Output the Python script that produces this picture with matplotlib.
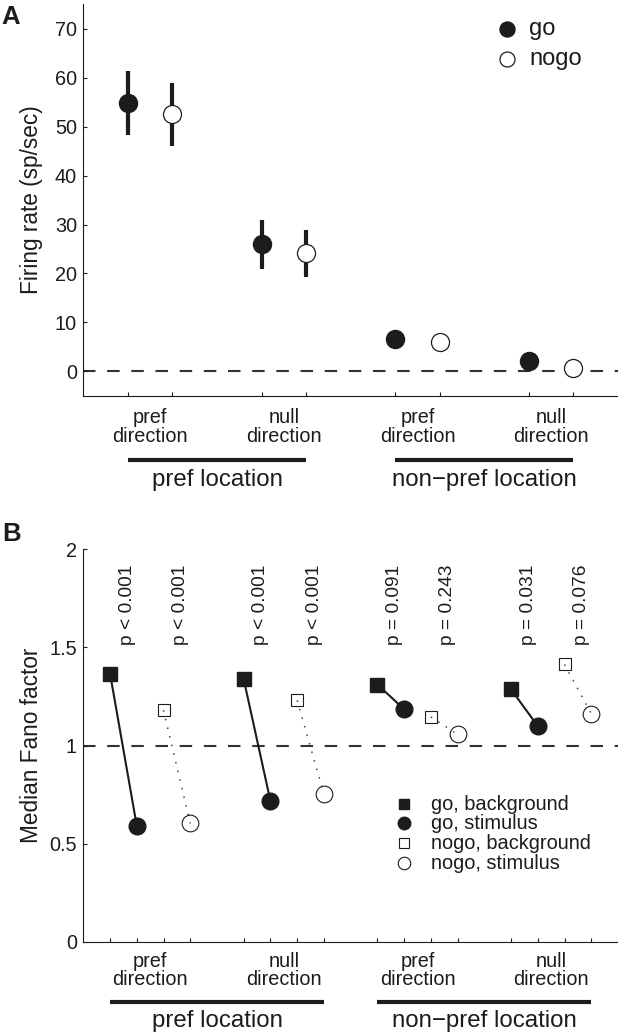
import matplotlib
matplotlib.use('Agg')
import matplotlib.pyplot as plt
import matplotlib.transforms as mtransforms
from matplotlib.ticker import FormatStrFormatter

plt.rcParams['font.family'] = ['Liberation Sans', 'DejaVu Sans']

# ---- panel A: firing rate (sp/sec) ----
go_x_a = [1, 4, 7, 10]
nogo_x_a = [2, 5, 8, 11]
go_rate = [54.8, 26.0, 6.6, 2.2]
go_err = [6.5, 5.0, 1.0, 1.0]
nogo_rate = [52.5, 24.1, 6.1, 0.8]
nogo_err = [6.5, 4.8, 1.0, 1.0]

# ---- panel B: median Fano factor ----
go_bg_x = [1, 6, 11, 16]
go_stim_x = [2, 7, 12, 17]
nogo_bg_x = [3, 8, 13, 18]
nogo_stim_x = [4, 9, 14, 19]
go_bg = [1.367, 1.338, 1.311, 1.286]
go_stim = [0.591, 0.717, 1.185, 1.099]
nogo_bg = [1.180, 1.230, 1.146, 1.413]
nogo_stim = [0.603, 0.752, 1.057, 1.163]
p_go = ['p < 0.001', 'p < 0.001', 'p = 0.091', 'p = 0.031']
p_nogo = ['p < 0.001', 'p < 0.001', 'p = 0.243', 'p = 0.076']

conditions = ['pref\ndirection', 'null\ndirection', 'pref\ndirection', 'null\ndirection']
locations = ['pref location', 'non\u2212pref location']

k = '#1c1c1c'
W, H = 618, 1034

fig = plt.figure(figsize=(W / 100, H / 100), dpi=100)


def setup(ax):
    for s in ['top', 'right']:
        ax.spines[s].set_visible(False)
    for s in ['left', 'bottom']:
        ax.spines[s].set_linewidth(0.8)
        ax.spines[s].set_color(k)
    ax.tick_params(direction='in', length=3, width=0.8, color=k,
                   labelsize=14.3, pad=4.5, labelcolor=k)


def under_labels(ax, cond_x, spans, offs):
    base = mtransforms.blended_transform_factory(ax.transData, ax.transAxes)
    for x, lab in zip(cond_x, conditions):
        tr = mtransforms.offset_copy(base, fig=fig, y=-offs[0], units='dots')
        ax.text(x, 0, lab, transform=tr, ha='center', va='top',
                fontsize=14.3, linespacing=0.97, color=k)
    for (x0, x1), lab in zip(spans, locations):
        tr = mtransforms.offset_copy(base, fig=fig, y=-offs[1], units='dots')
        ax.plot([x0, x1], [0, 0], transform=tr, color=k, lw=3,
                solid_capstyle='butt', clip_on=False)
        tr = mtransforms.offset_copy(base, fig=fig, y=-offs[2], units='dots')
        ax.text((x0 + x1) / 2, 0, lab, transform=tr, ha='center', va='top',
                fontsize=17.3, color=k)


# ================= A =================
axA = fig.add_axes([83.3 / W, 1 - 395.9 / H, 534.7 / W, 391.7 / H])
setup(axA)
axA.axhline(0, color='#333333', lw=1.5, ls=(0, (6, 5.6)), zorder=1)
axA.errorbar(go_x_a, go_rate, yerr=go_err, fmt='o', ms=13, mfc=k, mec=k,
             ecolor=k, elinewidth=3, capsize=0, zorder=3)
axA.errorbar(nogo_x_a, nogo_rate, yerr=nogo_err, fmt='o', ms=13, mfc='white',
             mec=k, mew=0.9, ecolor=k, elinewidth=3, capsize=0, zorder=3)
axA.set_xlim(0, 12)
axA.set_ylim(-5, 75)
axA.set_xticks(go_x_a + nogo_x_a)
axA.set_xticklabels([])
axA.set_yticks(range(0, 71, 10))
axA.set_ylabel('Firing rate (sp/sec)', fontsize=16.3, color=k)
axA.yaxis.set_label_coords(-0.075, 0.5)

# legend A
axA.plot([0.792], [0.937], 'o', ms=10.8, color=k, transform=axA.transAxes)
axA.plot([0.792], [0.860], 'o', ms=10.8, mfc='white', mec=k, mew=0.9,
         transform=axA.transAxes)
axA.text(0.8336, 0.937, 'go', transform=axA.transAxes, va='center',
         fontsize=17, color=k)
axA.text(0.8336, 0.860, 'nogo', transform=axA.transAxes, va='center',
         fontsize=17, color=k)

under_labels(axA, [1.5, 4.5, 7.5, 10.5], [(1, 5), (7, 11)], (12.5, 64.3, 73))

# ================= B =================
axB = fig.add_axes([83.3 / W, 1 - 941.8 / H, 534.7 / W, 392.5 / H])
setup(axB)
axB.axhline(1, color='#333333', lw=1.5, ls=(0, (6, 5.6)), zorder=1)
for i in range(4):
    axB.plot([go_bg_x[i], go_stim_x[i]], [go_bg[i], go_stim[i]], '-',
             color=k, lw=1.5, zorder=2)
    axB.plot([nogo_bg_x[i], nogo_stim_x[i]], [nogo_bg[i], nogo_stim[i]],
             color='#444444', lw=1.1, ls=(0, (1, 4.8)), zorder=2)
axB.plot(go_bg_x, go_bg, 's', ms=9.6, color=k, ls='none', zorder=3)
axB.plot(go_stim_x, go_stim, 'o', ms=12, color=k, ls='none', zorder=3)
axB.plot(nogo_bg_x, nogo_bg, 's', ms=8.9, mfc='none', mec=k, mew=0.8,
         ls='none', zorder=3)
axB.plot(nogo_stim_x, nogo_stim, 'o', ms=12, mfc='none', mec=k, mew=0.8,
         ls='none', zorder=3)

for i in range(4):
    axB.text((go_bg_x[i] + go_stim_x[i]) / 2 + 0.14, 1.51, p_go[i],
             rotation=90, ha='center', va='bottom', fontsize=13.8, color=k)
    axB.text((nogo_bg_x[i] + nogo_stim_x[i]) / 2 + 0.14, 1.51, p_nogo[i],
             rotation=90, ha='center', va='bottom', fontsize=13.8, color=k)

axB.set_xlim(0, 20)
axB.set_ylim(0, 2)
axB.set_xticks(go_bg_x + go_stim_x + nogo_bg_x + nogo_stim_x)
axB.set_xticklabels([])
axB.set_yticks([0, 0.5, 1, 1.5, 2])
axB.yaxis.set_major_formatter(FormatStrFormatter('%g'))
axB.set_ylabel('Median Fano factor', fontsize=16.3, color=k)
axB.yaxis.set_label_coords(-0.075, 0.5)

# legend B
leg_y = [0.351, 0.302, 0.251, 0.200]
leg_lab = ['go, background', 'go, stimulus', 'nogo, background', 'nogo, stimulus']
axB.plot([0.5998], [leg_y[0]], 's', ms=7.2, color=k, transform=axB.transAxes)
axB.plot([0.5998], [leg_y[1]], 'o', ms=9, color=k, transform=axB.transAxes)
axB.plot([0.5998], [leg_y[2]], 's', ms=7.2, mfc='none', mec=k, mew=0.8,
         transform=axB.transAxes)
axB.plot([0.5998], [leg_y[3]], 'o', ms=9, mfc='none', mec=k, mew=0.8,
         transform=axB.transAxes)
for y, lab in zip(leg_y, leg_lab):
    axB.text(0.6503, y, lab, transform=axB.transAxes, va='center',
             fontsize=14.4, color=k)

under_labels(axB, [2.5, 7.5, 12.5, 17.5], [(1, 9), (11, 19)], (10, 60, 68))

fig.text(0.003, 1 - 5 / H, 'A', fontsize=18.5, fontweight='bold', va='top', color=k)
fig.text(0.003, 1 - 522 / H, 'B', fontsize=18.5, fontweight='bold', va='top', color=k)

fig.savefig('out.png', dpi=100)
